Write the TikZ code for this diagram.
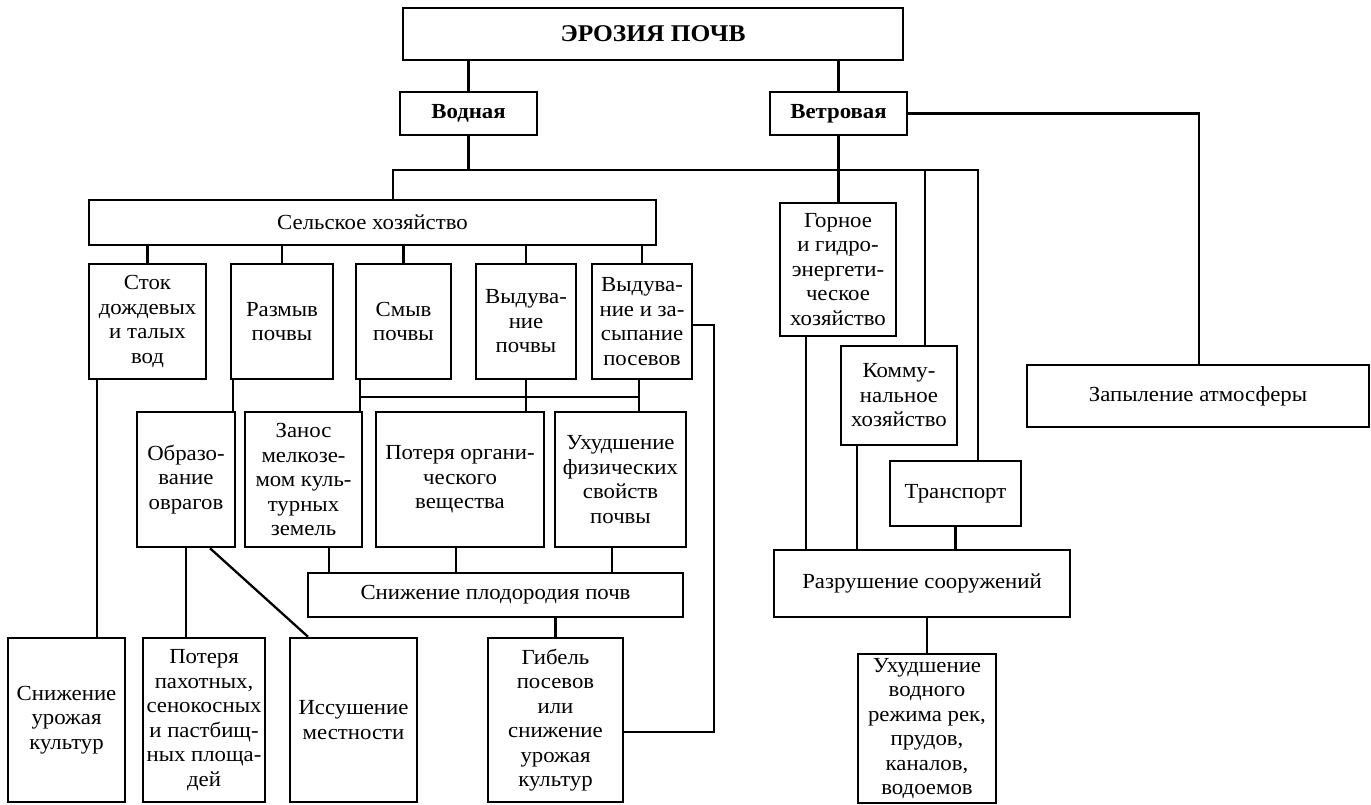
\documentclass[tikz,border=0pt]{standalone}
\usepackage{fontspec}
\setmainfont{Liberation Serif}[FakeStretch=1.06]
\newcommand\mybox[6]{\node[box, minimum width={(#4-#2)*1pt}, minimum height={(#5-#3)*1pt}] (#1) at ({(#2+#4)/2},{(#3+#5)/2}) {#6};}
\begin{document}
\begin{tikzpicture}[x=1pt,y=-1pt,
  box/.style={draw, line width=2.5pt, inner sep=0pt, align=center, font=\fontsize{21.5}{24.5}\selectfont},
  ln/.style={line width=2.3pt}]
\useasboundingbox (0,0) rectangle (1371,805);
% boxes
\mybox{top}{403}{8}{903}{60}{\fontsize{24}{28}\selectfont\bfseries ЭРОЗИЯ ПОЧВ}
\mybox{vod}{400}{92}{537}{135}{\bfseries Водная}
\mybox{vet}{770}{92}{907}{135}{\bfseries Ветровая}
\mybox{sel}{89}{200}{656}{245}{Сельское хозяйство}
\mybox{stok}{89}{264}{206}{379}{Сток\\дождевых\\и талых\\вод}
\mybox{razm}{231}{264}{333}{379}{Размыв\\почвы}
\mybox{smyv}{356}{264}{451}{379}{Смыв\\почвы}
\mybox{vyd}{476}{264}{576}{379}{Выдува-\\ние\\почвы}
\mybox{vydz}{592}{264}{692}{379}{Выдува-\\ние и за-\\сыпание\\посевов}
\mybox{obr}{137}{412}{235}{547}{Образо-\\вание\\оврагов}
\mybox{zanos}{245}{412}{362}{547}{Занос\\мелкозе-\\мом куль-\\турных\\земель}
\mybox{poter}{376}{412}{544}{547}{Потеря органи-\\ческого\\вещества}
\mybox{uhud}{555}{412}{686}{547}{Ухудшение\\физических\\свойств\\почвы}
\mybox{snpl}{308}{573}{683}{617}{Снижение плодородия почв}
\mybox{snur}{8}{638}{125}{802}{Снижение\\урожая\\культур}
\mybox{potpah}{143}{638}{265}{802}{Потеря\\пахотных,\\сенокосных\\и пастбищ-\\ных площа-\\дей}
\mybox{issush}{290}{638}{417}{802}{Иссушение\\местности}
\mybox{gibel}{488}{638}{623}{802}{Гибель\\посевов\\или\\снижение\\урожая\\культур}
\mybox{gorn}{780}{203}{896}{336}{Горное\\и гидро-\\энергети-\\ческое\\хозяйство}
\mybox{komm}{841}{346}{957}{445}{Комму-\\нальное\\хозяйство}
\mybox{trans}{890}{461}{1021}{526}{Транспорт}
\mybox{zapyl}{1027}{365}{1369}{427}{Запыление атмосферы}
\mybox{razr}{774}{550}{1070}{617}{Разрушение сооружений}
\mybox{uhv}{858}{654}{996}{803}{Ухудшение\\водного\\режима рек,\\прудов,\\каналов,\\водоемов}
% helper coordinates
\coordinate (b1) at (393,170);
\coordinate (b2) at (978,170);
\coordinate (kx) at (925,170);
\coordinate (zx) at (1199,0);
\coordinate (c97) at (97,0);
\coordinate (c233) at (233,0);
\coordinate (c360) at (360,0);
\coordinate (c639) at (639,0);
\coordinate (b3) at (360,397);
\coordinate (b4) at (639,397);
\coordinate (r1) at (714,325);
\coordinate (r2) at (714,732);
\coordinate (c329) at (329,0);
\coordinate (c456) at (456,0);
\coordinate (c612) at (612,0);
\coordinate (c210) at (210,0);
\coordinate (c308) at (308,0);
\coordinate (c806) at (806,0);
\coordinate (c857) at (857,0);
% connectors
\draw[ln] (top.south -| vod.north) -- (vod.north);
\draw[ln] (top.south -| vet.north) -- (vet.north);
\draw[ln] (vod.south) -- (vod.south |- b1);
\draw[ln] (sel.north -| b1) -- (b1) -- (b2) -- (trans.north -| b2);
\draw[ln] (kx) -- (komm.north -| kx);
\draw[ln] (vet.south) -- (vet.south |- gorn.north);
\draw[ln] (vet.east) -- (vet.east -| zx) -- (zapyl.north -| zx);
\foreach \n in {stok,razm,smyv,vyd,vydz}
  \draw[ln] (sel.south -| \n.north) -- (\n.north);
\draw[ln] (stok.south -| c97) -- (snur.north -| c97);
\draw[ln] (razm.south -| c233) -- (obr.north -| c233);
\draw[ln] (smyv.south -| c360) -- (zanos.north -| c360);
\draw[ln] (b3) -- (b4);
\draw[ln] (vyd.south) -- (vyd.south |- poter.north);
\draw[ln] (vydz.south -| c639) -- (uhud.north -| c639);
\draw[ln] (vydz.east |- r1) -- (r1) -- (r2) -- (gibel.east |- r2);
\draw[ln] (zanos.south -| c329) -- (snpl.north -| c329);
\draw[ln] (poter.south -| c456) -- (snpl.north -| c456);
\draw[ln] (uhud.south -| c612) -- (snpl.north -| c612);
\draw[ln] (snpl.south -| gibel.north) -- (gibel.north);
\draw[ln] (obr.south) -- (obr.south |- potpah.north);
\draw[ln] (obr.south -| c210) -- (issush.north -| c308);
\draw[ln] (gorn.south -| c806) -- (razr.north -| c806);
\draw[ln] (komm.south -| c857) -- (razr.north -| c857);
\draw[ln] (trans.south) -- (trans.south |- razr.north);
\draw[ln] (razr.south -| uhv.north) -- (uhv.north);
\end{tikzpicture}
\end{document}
